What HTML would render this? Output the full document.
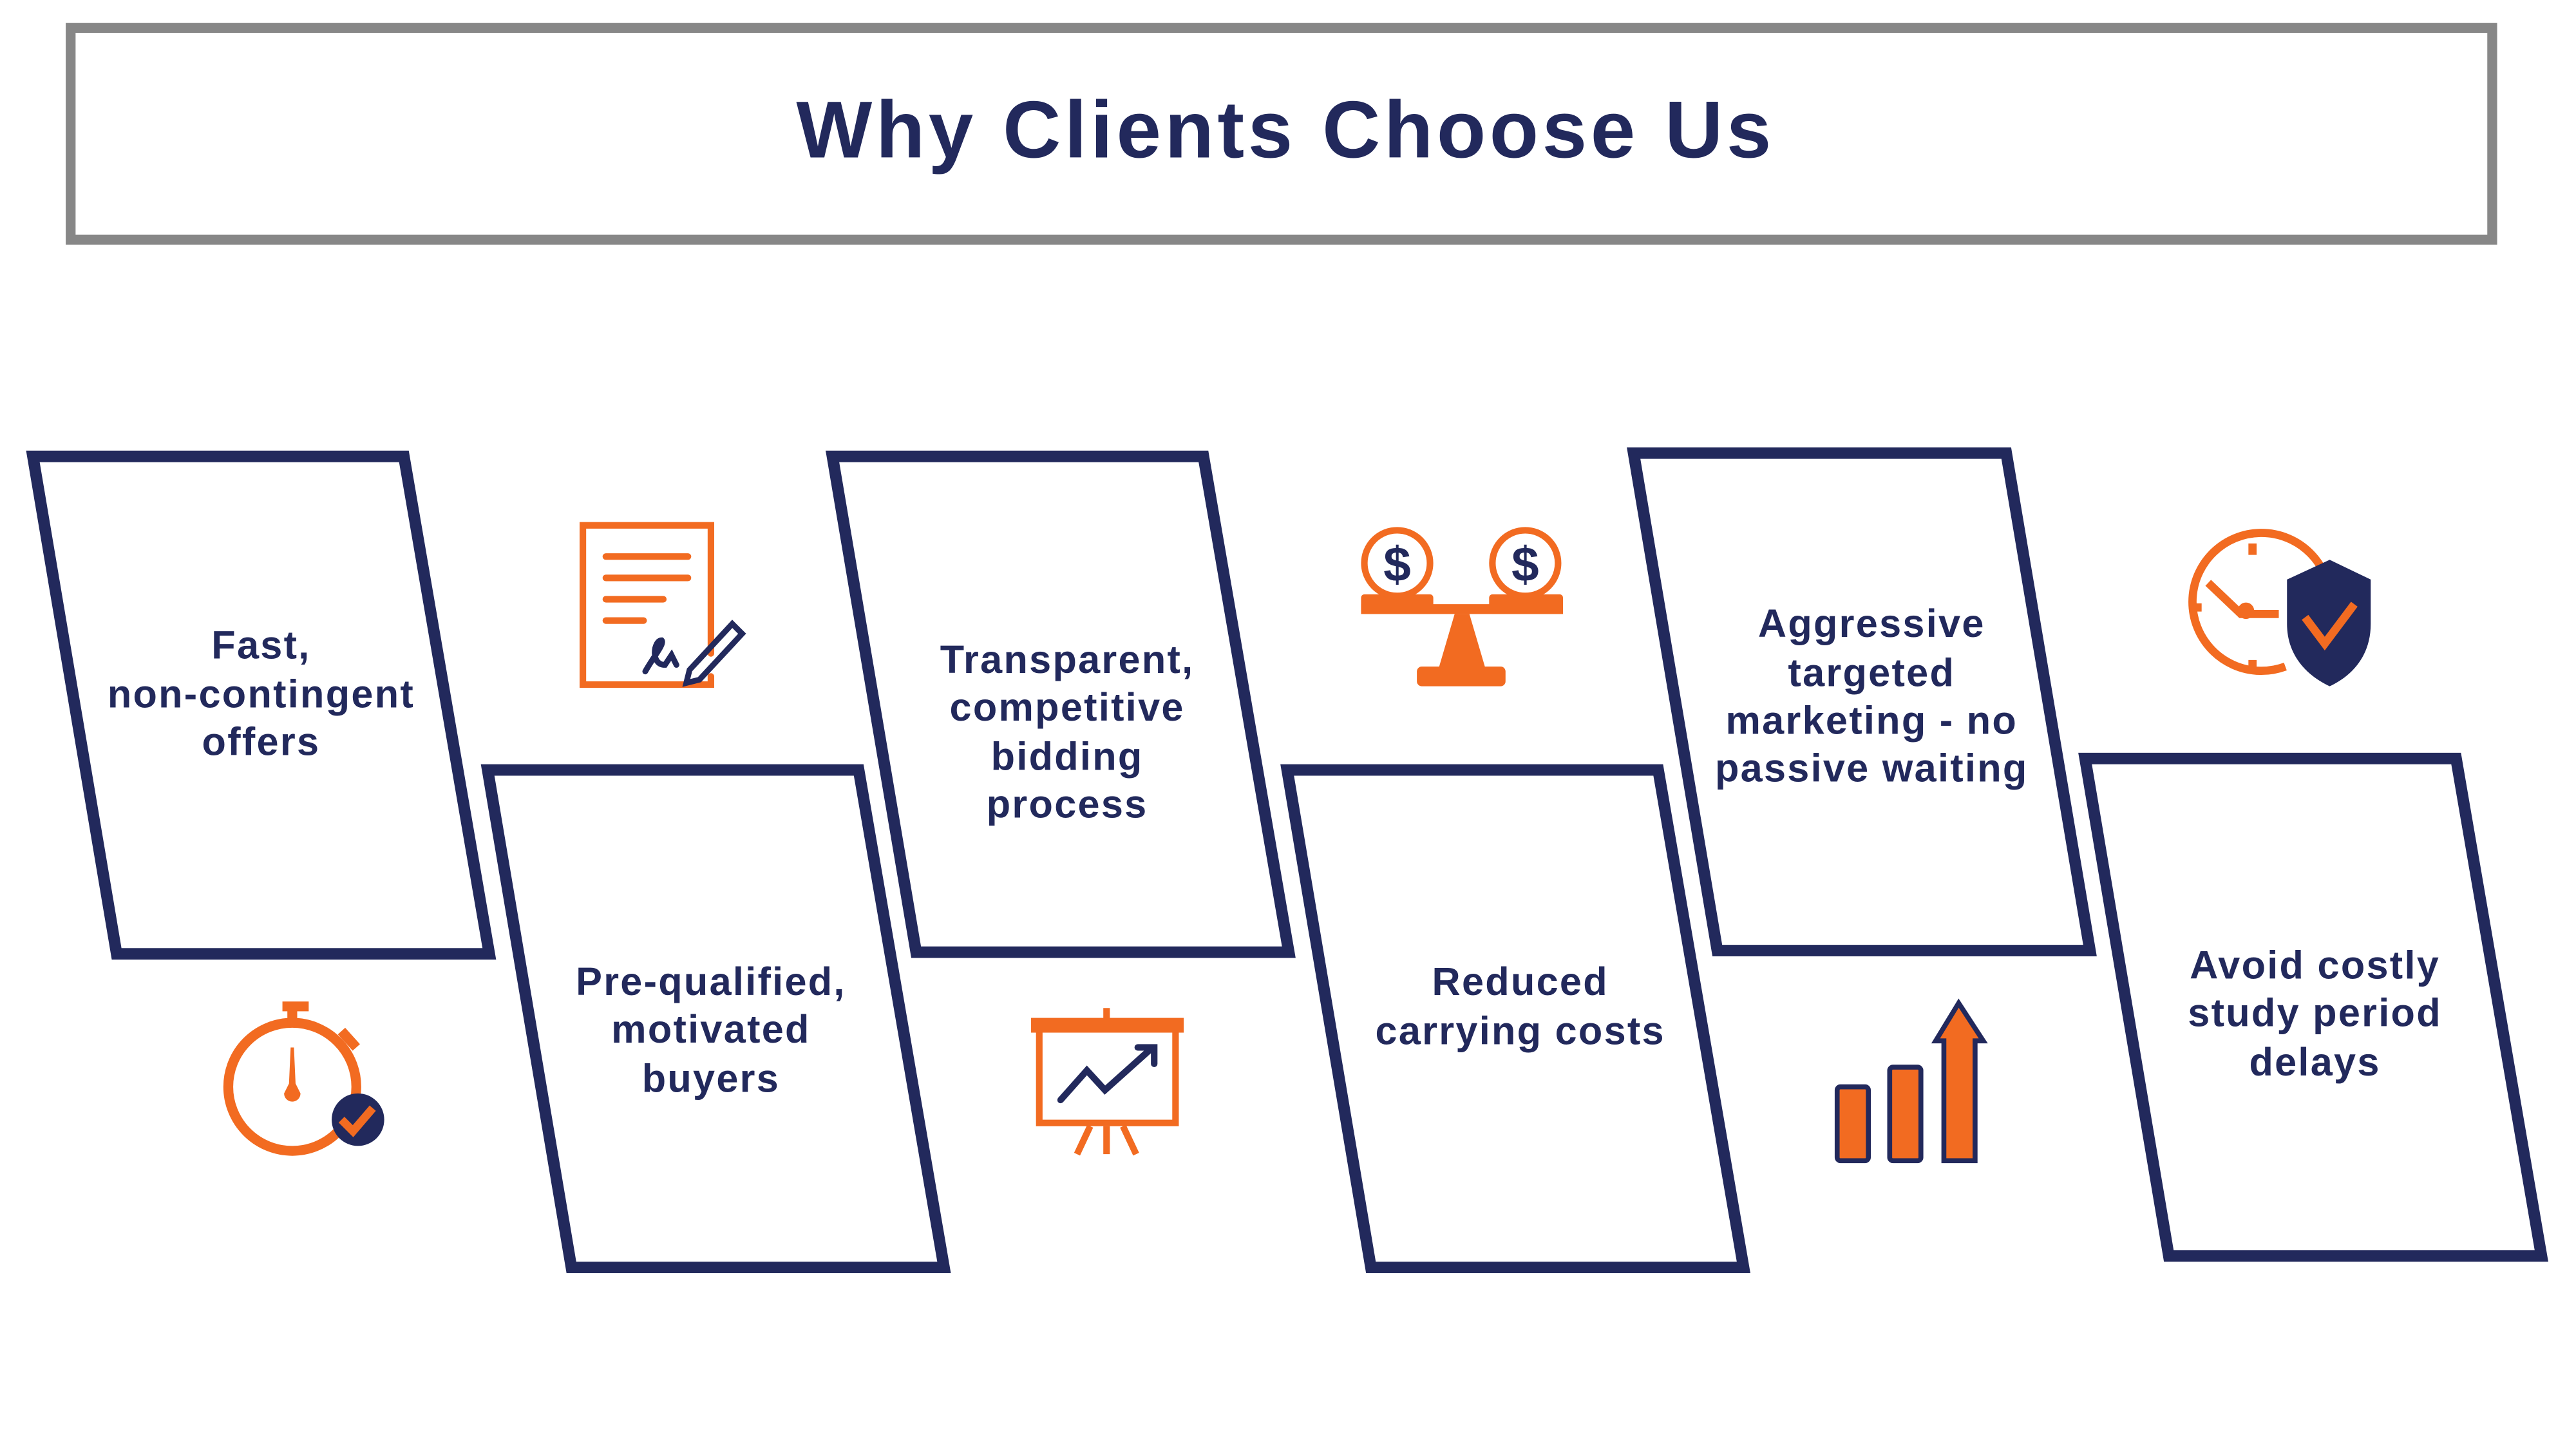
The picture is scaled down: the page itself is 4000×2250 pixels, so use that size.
<!DOCTYPE html>
<html><head><meta charset="utf-8"><style>
html,body{margin:0;padding:0;background:#fff;}
svg{display:block;}
text{font-family:"Liberation Sans",sans-serif;fill:#22295c;}
</style></head><body>
<svg width="4000" height="2250" viewBox="0 0 1569 882.6" xmlns="http://www.w3.org/2000/svg">
<rect x="43" y="17" width="1475" height="129" fill="#fff" stroke="#878787" stroke-width="6"/>
<text x="783" y="96" text-anchor="middle" font-size="49" font-weight="bold" letter-spacing="2.2">Why Clients Choose Us</text>
<g fill="none" stroke="#22295c" stroke-width="7">
<polygon points="20,278 246,278 298,581 71,581"/>
<polygon points="297,469 523,469 575,772 348,772"/>
<polygon points="507,278 733,278 785,580 558,580"/>
<polygon points="784,469 1010,469 1062,772 835,772"/>
<polygon points="995,276 1222,276 1273,579 1046,579"/>
<polygon points="1270,462 1496,462 1548,765 1321,765"/>
</g>
<g font-size="24" font-weight="bold" letter-spacing="0.9" text-anchor="middle">
<text x="159" y="401">Fast,</text><text x="159" y="431">non-contingent</text><text x="159" y="460">offers</text>
<text x="433" y="606">Pre-qualified,</text><text x="433" y="635">motivated</text><text x="433" y="665">buyers</text>
<text x="650" y="410">Transparent,</text><text x="650" y="439">competitive</text><text x="650" y="469">bidding</text><text x="650" y="498">process</text>
<text x="926" y="606">Reduced</text><text x="926" y="636">carrying costs</text>
<text x="1140" y="388">Aggressive</text><text x="1140" y="418">targeted</text><text x="1140" y="447">marketing - no</text><text x="1140" y="476">passive waiting</text>
<text x="1410" y="596">Avoid costly</text><text x="1410" y="625">study period</text><text x="1410" y="655">delays</text>
</g>
<!-- document icon -->
<g stroke="#f26b21" stroke-width="4" fill="none" stroke-linecap="round">
<path d="M433,398 V320 H355 V417 H433 V412"/>
<path d="M369,339 H419 M369,352 H419 M369,365 H404 M369,378 H392"/>
</g>
<g stroke="#22295c" stroke-width="3.5" fill="none" stroke-linecap="round">
<path d="M420,408 L446,380 L452,386 L426,414 L418,416 Z"/>
<path d="M393,409 C398,400 405,392 403,390 C398,390 396,405 405,405 L409,399 L412,405"/>
</g>
<!-- stopwatch -->
<g stroke="#f26b21" stroke-width="6" fill="none">
<circle cx="178" cy="662" r="39"/>
<path d="M172,613 H188 M178,613 V623"/>
<path d="M208,628 L217,638"/>
</g>
<path d="M177,638 L179,638 L180,660 L183,666 A5,5 0 1 1 173,666 L176,660 Z" fill="#f26b21"/>
<circle cx="218" cy="682" r="16" fill="#22295c"/>
<path d="M208,682 L215,689 L227,675" stroke="#f26b21" stroke-width="5" fill="none"/>
<!-- scales -->
<g fill="#f26b21">
<rect x="829" y="362" width="44" height="12" rx="2"/><rect x="907" y="362" width="45" height="12" rx="2"/>
<rect x="829" y="368" width="123" height="6"/>
<polygon points="886,374 895,374 905,408 876,408"/>
<rect x="863" y="406" width="54" height="12" rx="3"/>
</g>
<g stroke="#f26b21" stroke-width="4" fill="#fff">
<circle cx="851" cy="343" r="20"/><circle cx="929" cy="343" r="20"/>
</g>
<g font-size="30" font-weight="bold" text-anchor="middle"><text x="851" y="354">$</text><text x="929" y="354">$</text></g>
<!-- presentation board -->
<g stroke="#f26b21" stroke-width="4" fill="none">
<rect x="633" y="626" width="83" height="58"/>
<path d="M674,614 V622 M664,686 L656,703 M684,686 L692,703 M674,686 V703"/>
</g>
<rect x="628" y="620" width="93" height="9" fill="#f26b21"/>
<path d="M646,670 L662,652 L673,664 L702,638 M693,638 H703 V648" stroke="#22295c" stroke-width="4" fill="none" stroke-linecap="round"/>
<!-- bar chart -->
<g fill="#f26b21" stroke="#22295c" stroke-width="3">
<rect x="1119" y="662" width="19" height="45" rx="2"/>
<rect x="1151" y="650" width="19" height="57" rx="2"/>
<path d="M1184,707 V634 H1179 L1193,611 L1208,634 H1203 V707 Z"/>
</g>
<!-- clock + shield -->
<g stroke="#f26b21" stroke-width="5" fill="none">
<path d="M1416,350 A42,42 0 1 0 1392,406"/>
<path d="M1345,355 L1365,374 H1388"/>
<path d="M1372,331 V338 M1334,370 H1341 M1372,402 V409"/>
</g>
<circle cx="1368" cy="372" r="5" fill="#f26b21"/>
<path d="M1419,341 L1444,353 V380 C1444,400 1432,412 1419,418 C1406,412 1393,400 1393,380 V353 Z" fill="#22295c"/>
<path d="M1404,376 L1416,392 L1434,368" stroke="#f26b21" stroke-width="5" fill="none"/>
</svg>
</body></html>
